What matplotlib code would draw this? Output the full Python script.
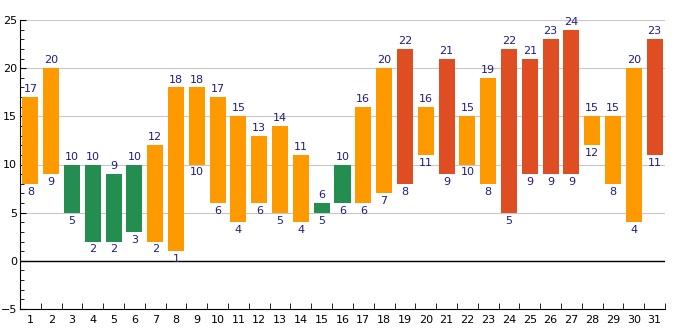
import matplotlib
matplotlib.use("Agg")
import matplotlib.pyplot as plt
from matplotlib.ticker import MultipleLocator

# daily ranges
days = list(range(1, 32))
low = [8, 9, 5, 2, 2, 3, 2, 1, 10, 6, 4, 6, 5, 4, 5, 6, 6, 7, 8, 11,
       9, 10, 8, 5, 9, 9, 9, 12, 8, 4, 11]
high = [17, 20, 10, 10, 9, 10, 12, 18, 18, 17, 15, 13, 14, 11, 6, 10, 16, 20, 22, 16,
        21, 15, 19, 22, 21, 23, 24, 15, 15, 20, 23]

GREEN = "#238e50"
ORANGE = "#ff9900"
RED = "#df4e22"
LABEL = "#1c1c8c"


def pick_color(h):
    if h <= 10:
        return GREEN
    if h > 20:
        return RED
    return ORANGE


fig = plt.figure(figsize=(6.85, 3.3), dpi=100)
ax = fig.add_axes([20 / 685, 1 - 309 / 330, 645 / 685, 289 / 330])

colors = [pick_color(h) for h in high]
heights = [h - l for h, l in zip(high, low)]
ax.bar(days, heights, bottom=low, width=0.77, color=colors, zorder=3)

for d, l, h in zip(days, low, high):
    ax.text(d, h + 0.3, str(h), ha="center", va="bottom", fontsize=8, color=LABEL, zorder=4)
    ax.text(d, l - 0.3, str(l), ha="center", va="top", fontsize=8, color=LABEL, zorder=4)

ax.set_xlim(0.5, 31.5)
ax.set_ylim(-5, 25)
ax.yaxis.set_major_locator(MultipleLocator(5))
ax.yaxis.set_minor_locator(MultipleLocator(1))
ax.set_xticks(days)
ax.set_xticks([d + 0.5 for d in [0] + days], minor=True)
ax.tick_params(axis="x", which="major", length=0, labelsize=8, pad=4)
ax.tick_params(axis="x", which="minor", direction="in", length=4)
ax.tick_params(axis="y", which="major", direction="in", length=4, labelsize=8, pad=2)
ax.tick_params(axis="y", which="minor", direction="in", length=3)
ax.grid(axis="y", which="major", color="#c8c8c8", linewidth=0.8, zorder=0)
ax.axhline(0, color="black", linewidth=1, zorder=2)

for s in ["top", "right"]:
    ax.spines[s].set_visible(False)

fig.savefig("out.png", dpi=100)
